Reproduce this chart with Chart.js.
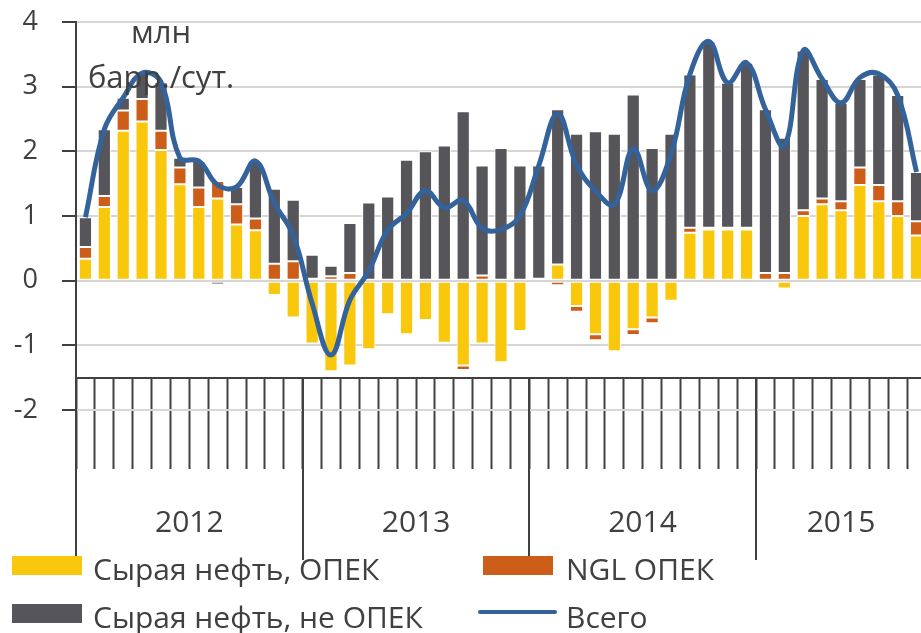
<!DOCTYPE html>
<html>
<head>
<meta charset="utf-8">
<script src="https://cdn.jsdelivr.net/npm/chart.js@4"></script>
<style>
    html, body { margin: 0; padding: 0; background: #fff; overflow: hidden; }
    #wrap { position: absolute; left: 0; top: 0; width: 926px; height: 633px; }
</style>
</head>
<body>
<div id="wrap"><canvas id="supply-chart"></canvas></div>
<script>
var categories = [
    '01.2012', '02.2012', '03.2012', '04.2012', '05.2012', '06.2012', '07.2012', '08.2012', '09.2012', '10.2012', '11.2012', '12.2012',
    '01.2013', '02.2013', '03.2013', '04.2013', '05.2013', '06.2013', '07.2013', '08.2013', '09.2013', '10.2013', '11.2013', '12.2013',
    '01.2014', '02.2014', '03.2014', '04.2014', '05.2014', '06.2014', '07.2014', '08.2014', '09.2014', '10.2014', '11.2014', '12.2014',
    '01.2015', '02.2015', '03.2015', '04.2015', '05.2015', '06.2015', '07.2015', '08.2015', '09.2015'
];
var years = ['2012', '2013', '2014', '2015'];
var yTicks = [-2, -1, 0, 1, 2, 3, 4];

var opecCrude = [
    0.34, 1.14, 2.32, 2.46, 2.02, 1.49, 1.14, 1.27, 0.87, 0.78, -0.22, -0.57,
    -0.97, -1.40, -1.31, -1.06, -0.52, -0.83, -0.61, -0.96, -1.31, -0.97, -1.26, -0.78,
    0.00, 0.25, -0.39, -0.83, -1.09, -0.75, -0.57, -0.31, 0.74, 0.79, 0.79, 0.79,
    0.00, -0.12, 1.00, 1.18, 1.09, 1.48, 1.23, 1.00, 0.70
];
var opecNgl = [
    0.18, 0.17, 0.31, 0.35, 0.30, 0.26, 0.30, 0.27, 0.31, 0.18, 0.26, 0.30,
    0.03, 0.07, 0.12, 0.00, 0.00, 0.00, 0.00, 0.00, -0.07, 0.08, 0.00, 0.00,
    0.03, -0.07, -0.09, -0.09, 0.00, -0.09, -0.09, 0.00, 0.08, 0.03, 0.03, 0.03,
    0.12, 0.12, 0.09, 0.09, 0.14, 0.27, 0.25, 0.23, 0.22
];
var nonOpecCrude = [
    0.46, 1.03, 0.20, 0.40, 0.75, 0.15, 0.41, -0.06, 0.27, 0.89, 1.16, 0.95,
    0.37, 0.16, 0.77, 1.21, 1.30, 1.87, 2.00, 2.09, 2.62, 1.70, 2.05, 1.78,
    1.75, 2.40, 2.27, 2.31, 2.27, 2.88, 2.05, 2.27, 2.37, 2.88, 2.24, 2.55,
    2.53, 2.09, 2.47, 1.85, 1.52, 1.37, 1.71, 1.64, 0.76
];
var total = [
    0.98, 2.34, 2.83, 3.21, 3.07, 1.90, 1.85, 1.48, 1.45, 1.85, 1.20, 0.70,
    -0.35, -1.15, -0.30, 0.15, 0.78, 1.04, 1.39, 1.13, 1.24, 0.81, 0.79, 1.00,
    1.78, 2.58, 1.79, 1.39, 1.18, 2.04, 1.39, 1.96, 3.19, 3.70, 3.06, 3.37,
    2.65, 2.09, 3.56, 3.12, 2.75, 3.14, 3.20, 2.87, 1.68
];

var axisCross = -1.5;
var textColor = '#404040';
var fontFamily = '"Open Sans", "Noto Sans", sans-serif';

// подписи годов и длинные разделители под осью категорий
var yearAxisPlugin = {
    id: 'yearAxis',
    afterDraw: function (chart) {
        var ctx = chart.ctx;
        var xs = chart.scales.x;
        var ys = chart.scales.y;
        var axisY = ys.getPixelForValue(axisCross);
        var half = (xs.getPixelForValue(1) - xs.getPixelForValue(0)) / 2;
        ctx.save();
        ctx.strokeStyle = textColor;
        ctx.lineWidth = 2;
        ctx.fillStyle = textColor;
        ctx.font = '30px ' + fontFamily;
        ctx.textAlign = 'center';
        ctx.textBaseline = 'alphabetic';
        years.forEach(function (yr) {
            var first = -1, last = -1;
            categories.forEach(function (c, i) {
                if (c.slice(-4) === yr) {
                    if (first < 0) first = i;
                    last = i;
                }
            });
            var left = Math.round(xs.getPixelForValue(first) - half);
            var right = xs.getPixelForValue(last) + half;
            ctx.beginPath();
            ctx.moveTo(left, axisY);
            ctx.lineTo(left, 560);
            ctx.stroke();
            ctx.fillText(yr, (left + right) / 2, 532);
        });
        ctx.restore();
    }
};

// подпись единиц и легенда
var labelsPlugin = {
    id: 'labels',
    afterDraw: function (chart) {
        var ctx = chart.ctx;
        var ds = chart.data.datasets;
        ctx.save();
        ctx.fillStyle = textColor;
        ctx.textAlign = 'center';
        ctx.textBaseline = 'alphabetic';
        ctx.font = '31px ' + fontFamily;
        ctx.fillText('млн', 161, 43);
        ctx.fillText('барр./сут.', 161, 88);

        var items = [
            { ds: ds[1], x: 12, y: 556 },
            { ds: ds[2], x: 483, y: 556 },
            { ds: ds[3], x: 12, y: 604 },
            { ds: ds[0], x: 478, y: 604 }
        ];
        ctx.textAlign = 'left';
        ctx.font = '30px ' + fontFamily;
        items.forEach(function (it) {
            if (it.ds.type === 'line') {
                ctx.strokeStyle = it.ds.borderColor;
                ctx.lineWidth = 4;
                ctx.lineCap = 'round';
                ctx.beginPath();
                ctx.moveTo(it.x + 2, it.y + 8);
                ctx.lineTo(it.x + 77, it.y + 8);
                ctx.stroke();
            } else {
                ctx.fillStyle = it.ds.backgroundColor;
                ctx.fillRect(it.x, it.y, 70, 19);
            }
            ctx.fillStyle = textColor;
            ctx.fillText(it.ds.label, it.x < 100 ? 93 : 566, it.y + 24);
        });
        ctx.restore();
    }
};

var ctx = document.getElementById('supply-chart').getContext('2d');
new Chart(ctx, {
    type: 'bar',
    data: {
        labels: categories,
        datasets: [
            {
                type: 'line',
                label: 'Всего',
                data: total,
                borderColor: '#34629A',
                borderWidth: 5,
                pointRadius: 0,
                tension: 0.4,
                fill: false,
                stack: 'total',
                order: 0
            },
            {
                label: 'Сырая нефть, ОПЕК',
                data: opecCrude,
                backgroundColor: '#F9C70C',
                stack: 'supply',
                order: 1
            },
            {
                label: 'NGL ОПЕК',
                data: opecNgl,
                backgroundColor: '#CC5E1A',
                stack: 'supply',
                order: 1
            },
            {
                label: 'Сырая нефть, не ОПЕК',
                data: nonOpecCrude,
                backgroundColor: '#55555A',
                stack: 'supply',
                order: 1
            }
        ]
    },
    options: {
        responsive: true,
        maintainAspectRatio: false,
        animation: false,
        layout: {
            padding: { top: 22, bottom: 223, left: 0, right: 0 }
        },
        datasets: {
            bar: {
                barPercentage: 0.7,
                categoryPercentage: 1,
                borderColor: '#ffffff',
                borderWidth: 1,
                borderSkipped: false
            }
        },
        plugins: {
            legend: { display: false },
            tooltip: { enabled: false }
        },
        scales: {
            x: {
                stacked: true,
                position: { y: axisCross },
                offset: true,
                grid: {
                    offset: true,
                    drawOnChartArea: false,
                    tickLength: 90,
                    tickColor: textColor,
                    tickWidth: 2
                },
                border: { display: true, color: textColor, width: 2 },
                ticks: { display: false }
            },
            y: {
                stacked: true,
                min: yTicks[0],
                max: yTicks[yTicks.length - 1],
                afterFit: function (scale) {
                    scale.width = 76;
                    scale.paddingTop = 0;
                    scale.paddingBottom = 0;
                },
                afterBuildTicks: function (scale) {
                    scale.ticks = yTicks.map(function (v) { return { value: v }; });
                },
                grid: {
                    color: '#d6d6d6',
                    lineWidth: 2,
                    tickLength: 14,
                    tickColor: textColor,
                    tickWidth: 2
                },
                border: { display: true, color: textColor, width: 2 },
                ticks: {
                    padding: 24,
                    color: textColor,
                    font: { family: fontFamily, size: 27 }
                }
            }
        }
    },
    plugins: [yearAxisPlugin, labelsPlugin]
});
</script>
</body>
</html>
